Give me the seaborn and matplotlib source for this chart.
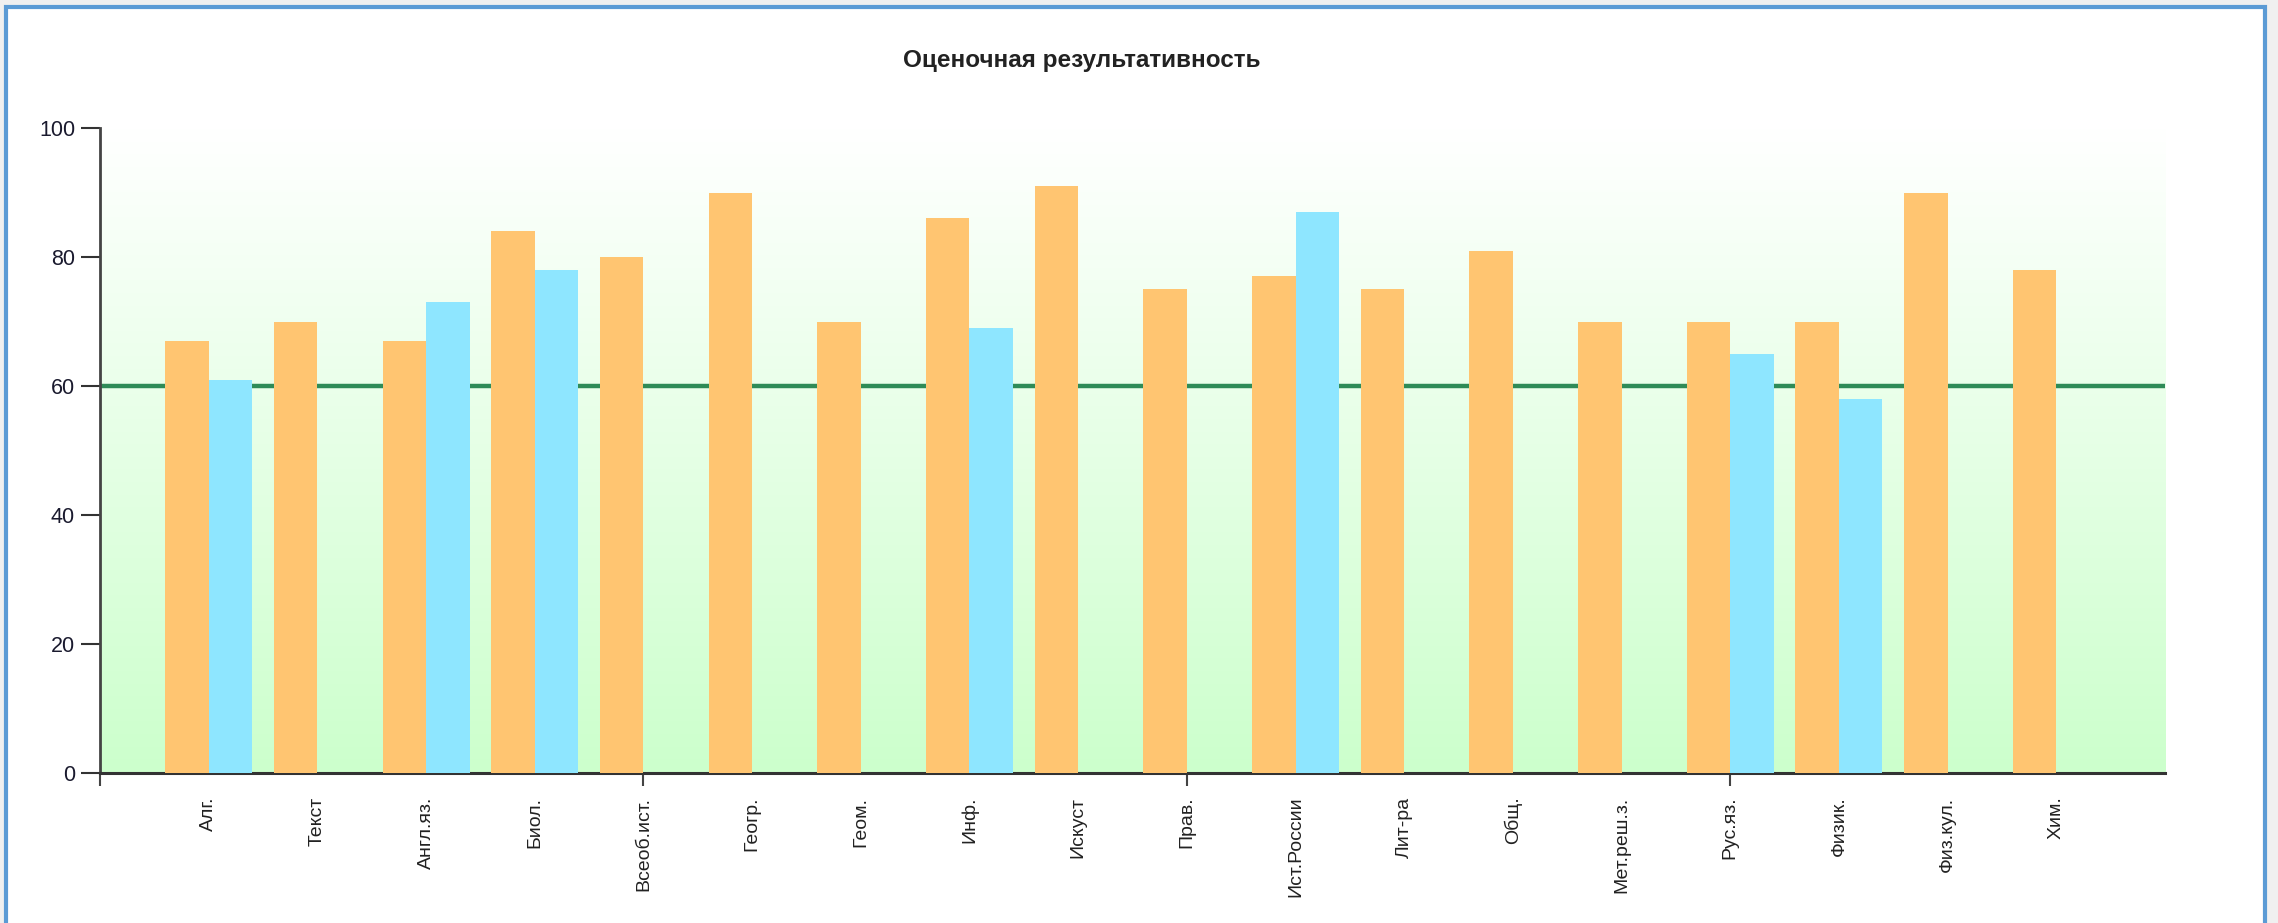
import numpy as np
import pandas as pd
import seaborn as sns
import matplotlib.pyplot as plt
from matplotlib.patches import Rectangle
from matplotlib.colors import to_rgb

subjects = ['Алг.', 'Текст', 'Англ.яз.', 'Биол.', 'Всеоб.ист.', 'Геогр.', 'Геом.', 'Инф.', 'Искуст',
            'Прав.', 'Ист.России', 'Лит-ра', 'Общ.', 'Мет.реш.з.', 'Рус.яз.', 'Физик.', 'Физ.кул.', 'Хим.']
orange_vals = [67, 70, 67, 84, 80, 90, 70, 86, 91, 75, 77, 75, 81, 70, 70, 70, 90, 78]
blue_vals = [61, None, 73, 78, None, None, None, 69, None, None, 87, None, None, None, 65, 58, None, None]
threshold = 60
title = 'Оценочная результативность'

df = pd.DataFrame({
    'subject': subjects * 2,
    'value': orange_vals + blue_vals,
    'series': ['a'] * len(subjects) + ['b'] * len(subjects),
})
df = df.dropna()

sns.set_style('ticks')
plt.rcParams['font.family'] = ['Liberation Sans', 'DejaVu Sans']

fig = plt.figure(figsize=(22.78, 9.23), dpi=100, facecolor='#f0f0f0')
# blue frame round the chart
fig.patches.append(Rectangle((0.0026, -0.2), 0.9917, 1.1924, transform=fig.transFigure,
                             facecolor='white', edgecolor='#5b9bd5', lw=3, zorder=-1))
ax = fig.add_axes([0.0439, 0.1625, 0.9065, 0.6988])
ax.set_facecolor('none')

sns.barplot(data=df, x='subject', y='value', hue='series', order=subjects, hue_order=['a', 'b'],
            palette=['#ffc571', '#8ee6ff'], width=0.8, saturation=1, dodge=True,
            legend=False, ax=ax, zorder=3, errorbar=None, linewidth=0)

# green gradient background
top, bottom = np.array(to_rgb('#ffffff')), np.array(to_rgb('#ccffcc'))
t = np.linspace(0, 1, 256).reshape(-1, 1, 1)
grad = top * (1 - t) + bottom * t
ax.imshow(grad, extent=[-1, 18, 0, 100], aspect='auto', zorder=0)

ax.axhline(threshold, color='#2e8b57', lw=3.2, zorder=1)

ax.set_xlim(-1, 18)
ax.set_ylim(0, 100)
ax.set_yticks([0, 20, 40, 60, 80, 100])
ax.tick_params(axis='y', length=14, width=1.5, color='#333333', labelsize=15.5, labelcolor='#1a1a2e', pad=4)
ax.set_xticks(range(len(subjects)))
ax.set_xticklabels(subjects, rotation=90, va='top', ha='center')
ax.tick_params(axis='x', length=0, labelsize=14, labelcolor='#222222', pad=17)
ax.xaxis.remove_overlapping_locs = False
ax.set_xticks([-1, 4, 9, 14], minor=True)
ax.tick_params(axis='x', which='minor', length=9, width=1.5, color='#444444')
ax.set_xlabel('')
ax.set_ylabel('')

for side in ['top', 'right']:
    ax.spines[side].set_visible(False)
ax.spines['left'].set_color('#444444')
ax.spines['left'].set_linewidth(2)
ax.spines['bottom'].set_color('#333333')
ax.spines['bottom'].set_linewidth(2.2)

fig.text(0.475, 0.934, title, ha='center', va='center', fontsize=17.5, fontweight='bold', color='#222222')

fig.savefig('out.png', dpi=100, facecolor=fig.get_facecolor())
